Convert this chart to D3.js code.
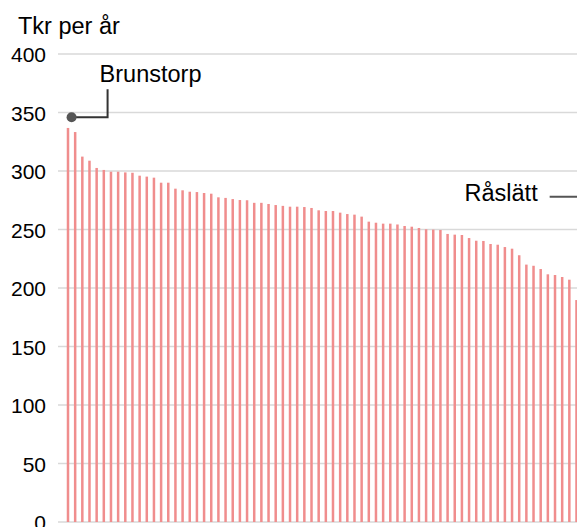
<!DOCTYPE html>
<html>
<head>
<meta charset="utf-8">
<script src="https://cdn.jsdelivr.net/npm/d3@7"></script>
<style>
  html, body { margin: 0; padding: 0; background: #fff; }
  svg { display: block; font-family: "Liberation Sans", Arial, sans-serif; }
</style>
</head>
<body>
<svg id="chart" width="577" height="527"></svg>
<script>
// ---- data ----
const yTicks = [0, 50, 100, 150, 200, 250, 300, 350, 400];
const yTitle = "Tkr per år";
const values = [
  336.8, 333.3, 312.3, 308.8, 302.6, 300.9, 299.4, 299.4, 298.8, 298.5,
  296.0, 295.2, 294.3, 290.0, 290.0, 284.9, 283.5, 282.3, 282.0, 281.2,
  280.6, 277.5, 277.0, 276.0, 275.2, 275.0, 272.8, 272.8, 271.8, 270.9,
  270.2, 269.5, 269.5, 269.2, 268.4, 266.4, 265.8, 265.8, 264.4, 263.2,
  262.7, 261.0, 256.7, 255.8, 255.0, 255.0, 254.3, 253.0, 252.4, 251.3,
  250.2, 249.9, 249.6, 246.2, 245.6, 245.3, 242.7, 240.4, 240.2, 237.6,
  237.0, 235.0, 233.6, 228.0, 220.0, 219.0, 216.2, 211.7, 211.1, 209.4,
  207.1, 189.7
];
const highlightNames = ["Brunstorp", "Råslätt"];
const highlightValues = [346, 278];
const highlightIndex = [0.5, 72];

// ---- layout ----
const svg = d3.select("#chart");
const plotLeft = 58, plotRight = 577;

const y = d3.scaleLinear().domain([0, 400]).range([522, 54]);
const x = d3.scaleLinear().domain([0, values.length - 1]).range([68, 576.5]);

// gridlines
svg.append("g").selectAll("line").data(yTicks).join("line")
  .attr("x1", plotLeft).attr("x2", plotRight)
  .attr("y1", d => y(d)).attr("y2", d => y(d))
  .attr("stroke", "#d9d9d9").attr("stroke-width", 1.6);

// y axis labels
const yAxis = d3.axisLeft(y).tickValues(yTicks).tickSize(0).tickPadding(0);
const gy = svg.append("g").attr("transform", "translate(46,0)").call(yAxis);
gy.select(".domain").remove();
gy.selectAll("text")
  .attr("font-size", 21).attr("font-family", "Liberation Sans, Arial, sans-serif")
  .attr("fill", "#000").attr("dy", "0.36em");

// title
svg.append("text").attr("x", 18).attr("y", 34)
  .attr("font-size", 23.5).attr("fill", "#000").text(yTitle);

// bars
const bw = 2.5;
svg.append("g").selectAll("rect").data(values).join("rect")
  .attr("x", (d, i) => x(i) - bw / 2)
  .attr("width", bw)
  .attr("y", d => y(d))
  .attr("height", d => y(0) - y(d))
  .attr("fill", "#f08d8d");

// Brunstorp annotation
const bx = x(highlightIndex[0]), by = y(highlightValues[0]);
svg.append("path")
  .attr("d", `M${bx},${by}H${bx + 36}V${by - 28}`)
  .attr("fill", "none").attr("stroke", "#333").attr("stroke-width", 2);
svg.append("circle").attr("cx", bx).attr("cy", by).attr("r", 5).attr("fill", "#555");
svg.append("text").attr("x", bx + 28).attr("y", by - 35)
  .attr("font-size", 23.5).attr("fill", "#000").text(highlightNames[0]);

// Råslätt annotation
const rx = x(highlightIndex[1]), ry = y(highlightValues[1]);
svg.append("line")
  .attr("x1", rx - 34).attr("x2", rx).attr("y1", ry).attr("y2", ry)
  .attr("stroke", "#555").attr("stroke-width", 2);
svg.append("text").attr("x", rx - 46).attr("y", ry + 4)
  .attr("text-anchor", "end")
  .attr("font-size", 23.5).attr("fill", "#000").text(highlightNames[1]);
</script>
</body>
</html>
